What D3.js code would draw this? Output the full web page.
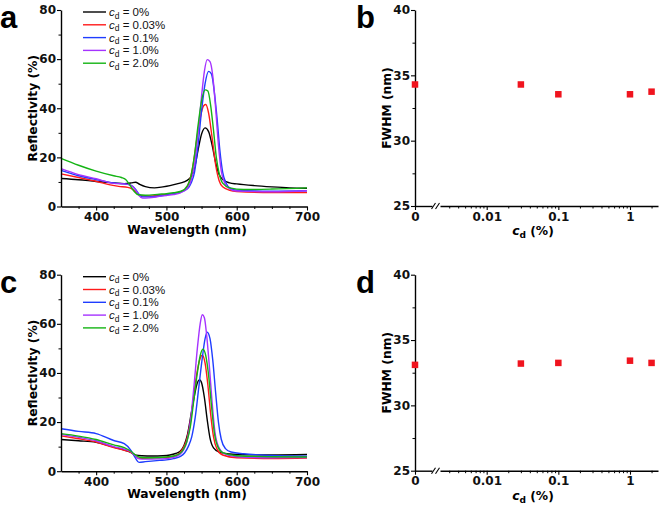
<!DOCTYPE html>
<html><head><meta charset="utf-8">
<script src="https://cdn.jsdelivr.net/npm/d3@7"></script>
<style>
html,body{margin:0;padding:0;background:#fff;}
svg{display:block;font-family:"Liberation Sans",Arial,sans-serif;}
</style></head>
<body>
<svg id="chart" width="661" height="506"></svg>
<script>
// ---------- DATA ----------
const seriesLabels = ["0%", "0.03%", "0.1%", "1.0%", "2.0%"];
const seriesColors = ["#000000", "#ff1a1a", "#1f3dff", "#a533ff", "#14b414"];

// Panel a spectra: [wavelength nm, reflectivity %]
const a_cd0 = [[350,11.4],[375,10.9],[400,10.2],[425,9.6],[440,9.3],[450,9.6],[456,9.9],[462,9.0],[470,8.1],[483,7.6],[495,8.0],[505,8.5],[515,9.2],[525,10.0],[532,11.2],[537,13],[541,17],[545,23],[550,29.5],[555,32],[560,30.5],[565,25],[570,18],[575,13],[580,11],[590,9.6],[600,9.2],[625,8.5],[650,8.0],[675,7.6],[700,7.4]];
const a_cd003 = [[350,13.3],[375,11.8],[400,10.3],[420,8.8],[432,8.2],[445,7.8],[452,7.0],[458,5.4],[464,4.4],[475,4.3],[490,4.6],[500,4.9],[510,5.3],[520,6.0],[528,7.5],[533,10.5],[538,17],[543,27],[548,36],[553,41],[556,41.5],[560,38],[565,28],[570,17],[575,10.5],[580,8],[590,6.6],[600,6.1],[650,5.7],[700,5.7]];
const a_cd01 = [[350,14.7],[375,12.5],[400,11.0],[425,9.6],[440,9.2],[450,8.6],[456,7.0],[461,5.0],[466,3.9],[475,3.9],[490,4.3],[500,4.7],[510,5.2],[520,5.9],[530,7.2],[535,9.5],[540,14],[545,25],[550,39],[555,50],[560,55],[564,54],[568,47],[572,36],[576,23],[580,14],[585,9.5],[590,7.6],[600,6.6],[650,6.2],[700,6.4]];
const a_cd1 = [[350,15.4],[375,13.0],[400,11.3],[425,9.4],[440,9.2],[450,8.5],[456,6.8],[461,4.5],[466,3.4],[475,3.5],[490,4.1],[500,4.5],[510,4.9],[520,5.6],[530,7.5],[535,10.5],[540,17],[545,30],[550,45],[554,55],[558,59.8],[562,59],[566,53],[570,40],[574,25],[578,14.5],[583,9.5],[590,7.2],[600,6.3],[650,6.0],[700,6.4]];
const a_cd2 = [[350,19.6],[375,16.8],[400,14.4],[425,12.5],[436,11.8],[442,11.0],[448,8.7],[454,6.2],[460,4.8],[470,4.6],[490,5.0],[500,5.2],[510,5.6],[521,6.2],[530,8.5],[535,12.5],[540,21],[545,33],[550,43],[555,47.5],[559,47],[563,41],[567,31],[571,20],[575,13.5],[580,9.5],[590,7.6],[610,6.9],[650,7.1],[700,7.6]];

// Panel c spectra
const c_cd0 = [[350,12.9],[375,12.4],[400,11.8],[425,9.8],[440,8.6],[450,7.6],[457,6.5],[465,6.3],[480,6.2],[495,6.3],[505,6.6],[513,7.2],[520,8.2],[525,10.5],[530,15],[535,23],[540,31],[544,36],[547,37.3],[550,36],[554,30],[558,21],[562,13.5],[567,9.5],[575,7.8],[590,7.0],[610,6.7],[650,6.6],[700,6.8]];
const c_cd003 = [[350,14.4],[375,13.2],[400,11.9],[425,9.6],[440,8.5],[450,7.6],[456,6.2],[460,5.3],[470,5.3],[490,5.5],[500,5.6],[510,6.1],[518,7.2],[524,9.5],[529,13],[534,20],[539,31],[544,41],[548,46],[551,47.2],[555,44],[559,35],[563,23],[567,14],[572,9],[580,6.6],[600,5.5],[650,5.2],[700,5.4]];
const c_cd01 = [[350,17.3],[375,16.2],[400,15.3],[425,12.5],[440,11.2],[450,8.3],[456,5.3],[461,3.6],[470,3.9],[490,4.4],[500,4.6],[510,5.1],[520,6.0],[526,7.5],[531,10],[536,14],[541,22],[546,34],[551,46],[555,54],[558,56.6],[562,54],[566,45],[570,32],[574,20],[578,13],[584,9.2],[592,7.8],[610,7.1],[650,6.4],[700,6.1]];
const c_cd1 = [[350,15.0],[375,13.8],[400,12.4],[425,10.0],[440,9.0],[450,7.8],[456,6.2],[461,5.0],[470,4.9],[490,5.0],[500,5.1],[510,5.6],[518,6.6],[524,8.5],[529,12],[534,20],[539,34],[544,50],[548,60],[551,63.7],[554,62.5],[557,56],[561,43],[565,28],[569,16],[574,10],[582,7.2],[600,5.9],[650,5.5],[700,5.6]];
const c_cd2 = [[350,15.3],[375,14.3],[400,12.9],[425,10.7],[440,9.6],[450,8.0],[456,6.6],[462,5.7],[470,5.5],[490,5.6],[500,5.8],[510,6.2],[518,7.0],[524,8.8],[529,12],[534,18],[539,29],[544,40],[548,47],[552,49.7],[556,47],[560,39],[564,27],[568,16],[573,10],[580,7.6],[600,6.3],[650,5.9],[700,5.8]];

// Panels b, d: FWHM vs c_d
const cdValues = [0, 0.03, 0.1, 1, 2];
const fwhmB = [34.3, 34.3, 33.55, 33.55, 33.75];
const fwhmD = [33.1, 33.2, 33.25, 33.42, 33.25];

// Ticks
const wlMajorTicks = [400, 500, 600, 700];
const wlMinorTicks = [375, 425, 450, 475, 525, 550, 575, 625, 650, 675];
const reflMajorTicks = [0, 20, 40, 60, 80];
const reflMinorTicks = [10, 30, 50, 70];
const fwhmMajorTicks = [25, 30, 35, 40];
const fwhmMinorTicks = [27.5, 32.5, 37.5];
const cdMajorTicks = [0.01, 0.1, 1];
const cdMajorLabels = ["0.01", "0.1", "1"];
const cdMinorTicks = [0.003,0.004,0.005,0.006,0.007,0.008,0.009,0.02,0.03,0.04,0.05,0.06,0.07,0.08,0.09,0.2,0.3,0.4,0.5,0.6,0.7,0.8,0.9,2];

// ---------- DRAW ----------
const svg = d3.select("#chart");
const FONT = "'Liberation Sans', Arial, sans-serif";
const BFONT = "'DejaVu Sans', 'Liberation Sans', sans-serif";

function styleAxis(g) {
  g.select(".domain").attr("stroke", "#000").attr("stroke-width", 1.4);
  g.selectAll(".tick line").attr("stroke", "#000").attr("stroke-width", 1.1);
  g.selectAll(".tick text").attr("font-family", BFONT).attr("font-weight", "bold").attr("font-size", 12).attr("fill", "#111");
}

function spectraPanel(ox, oy, letter, data) {
  const W = 246, H = 196.5;
  const g = svg.append("g").attr("transform", `translate(${ox},${oy})`);
  const x = d3.scaleLinear().domain([350, 700]).range([0, W]);
  const y = d3.scaleLinear().domain([0, 80]).range([H, 0]);

  // minor ticks
  g.append("g").attr("transform", `translate(0,${H})`)
    .call(d3.axisBottom(x).tickValues(wlMinorTicks).tickSize(2.5).tickFormat(""))
    .call(a => { a.select(".domain").remove(); a.selectAll("line").attr("stroke", "#000").attr("stroke-width", 1); });
  g.append("g")
    .call(d3.axisLeft(y).tickValues(reflMinorTicks).tickSize(2.5).tickFormat(""))
    .call(a => { a.select(".domain").remove(); a.selectAll("line").attr("stroke", "#000").attr("stroke-width", 1); });

  // curves
  const line = d3.line().x(d => x(d[0])).y(d => y(d[1])).curve(d3.curveMonotoneX);
  data.forEach((s, i) => {
    g.append("path").datum(s).attr("fill", "none").attr("stroke", seriesColors[i])
      .attr("stroke-width", 1.4).attr("stroke-linejoin", "round").attr("d", line);
  });

  // axes
  g.append("g").attr("transform", `translate(0,${H})`)
    .call(d3.axisBottom(x).tickValues(wlMajorTicks).tickSize(4).tickSizeOuter(0).tickPadding(2))
    .call(styleAxis);
  g.append("g")
    .call(d3.axisLeft(y).tickValues(reflMajorTicks).tickSize(4).tickSizeOuter(0).tickPadding(1))
    .call(styleAxis);

  // axis titles
  g.append("text").attr("x", W / 2 + 3).attr("y", H + 27).attr("text-anchor", "middle")
    .attr("font-family", BFONT).attr("font-weight", "bold").attr("font-size", 12.3).text("Wavelength (nm)");
  g.append("text").attr("transform", `translate(-24,${H / 2}) rotate(-90)`).attr("text-anchor", "middle")
    .attr("font-family", BFONT).attr("font-weight", "bold").attr("font-size", 12.3).text("Reflectivity (%)");

  // panel letter
  svg.append("text").attr("x", ox - 61).attr("y", oy + 18).attr("font-family", FONT)
    .attr("font-weight", "bold").attr("font-size", 31).text(letter);

  // legend
  const lg = g.append("g").attr("transform", `translate(22,2)`);
  seriesLabels.forEach((lab, i) => {
    const row = lg.append("g").attr("transform", `translate(0,${i * 12.8})`);
    row.append("line").attr("x1", 0).attr("x2", 23).attr("y1", 0).attr("y2", 0)
      .attr("stroke", seriesColors[i]).attr("stroke-width", 1.4);
    const t = row.append("text").attr("x", 26).attr("y", 4).attr("font-family", FONT).attr("font-size", 11.5).attr("fill", "#111");
    t.append("tspan").attr("font-style", "italic").text("c");
    t.append("tspan").attr("font-size", 8.5).attr("dy", 2.5).text("d");
    t.append("tspan").attr("dy", -2.5).text(" = " + lab);
  });
}

function fwhmPanel(ox, oy, letter, vals) {
  const W = 243, H = 196;
  const g = svg.append("g").attr("transform", `translate(${ox},${oy})`);
  const y = d3.scaleLinear().domain([25, 40]).range([H, 0]);
  const xZero = d3.scaleLinear().domain([0, 1]).range([0, 17]);
  const xLog = d3.scaleLog().domain([0.00223, 2.46]).range([25, W]);
  const xp = v => v === 0 ? xZero(0) : xLog(v);

  // minor ticks
  g.append("g").attr("transform", `translate(0,${H})`)
    .call(d3.axisBottom(xLog).tickValues(cdMinorTicks).tickSize(2.5).tickFormat(""))
    .call(a => { a.select(".domain").remove(); a.selectAll("line").attr("stroke", "#000").attr("stroke-width", 1); });
  g.append("g")
    .call(d3.axisLeft(y).tickValues(fwhmMinorTicks).tickSize(2.5).tickFormat(""))
    .call(a => { a.select(".domain").remove(); a.selectAll("line").attr("stroke", "#000").attr("stroke-width", 1); });

  // x axis: zero segment
  g.append("g").attr("transform", `translate(0,${H})`)
    .call(d3.axisBottom(xZero).tickValues([0]).tickSize(4).tickSizeOuter(0).tickPadding(2).tickFormat(d3.format("d")))
    .call(styleAxis);
  // log segment
  g.append("g").attr("transform", `translate(0,${H})`)
    .call(d3.axisBottom(xLog).tickValues(cdMajorTicks).tickSize(4).tickSizeOuter(0).tickPadding(2)
      .tickFormat((d, i) => cdMajorLabels[i]))
    .call(styleAxis);
  // break marks
  [18.5, 22.5].forEach(bx => {
    g.append("line").attr("x1", bx - 2).attr("x2", bx + 2).attr("y1", H + 3).attr("y2", H - 3)
      .attr("stroke", "#000").attr("stroke-width", 1.1);
  });

  // y axis
  g.append("g")
    .call(d3.axisLeft(y).tickValues(fwhmMajorTicks).tickSize(4).tickSizeOuter(0).tickPadding(1))
    .call(styleAxis);

  // points
  const s = 6.5;
  g.selectAll("rect.pt").data(cdValues).enter().append("rect").attr("class", "pt")
    .attr("x", d => xp(d) - s / 2).attr("y", (d, i) => y(vals[i]) - s / 2)
    .attr("width", s).attr("height", s).attr("fill", "#f0141e");

  // titles
  const t = g.append("text").attr("x", 118).attr("y", H + 29).attr("text-anchor", "middle")
    .attr("font-family", BFONT).attr("font-weight", "bold").attr("font-size", 12.3);
  t.append("tspan").attr("font-style", "italic").text("c");
  t.append("tspan").attr("font-size", 9).attr("dy", 3).text("d");
  t.append("tspan").attr("dy", -3).text(" (%)");
  g.append("text").attr("transform", `translate(-24,${H / 2}) rotate(-90)`).attr("text-anchor", "middle")
    .attr("font-family", BFONT).attr("font-weight", "bold").attr("font-size", 12.3).text("FWHM (nm)");

  svg.append("text").attr("x", ox - 59).attr("y", oy + 18).attr("font-family", FONT)
    .attr("font-weight", "bold").attr("font-size", 31).text(letter);
}

spectraPanel(61, 10, "a", [a_cd0, a_cd003, a_cd01, a_cd1, a_cd2]);
fwhmPanel(415, 10, "b", fwhmB);
spectraPanel(61, 274.7, "c", [c_cd0, c_cd003, c_cd01, c_cd1, c_cd2]);
fwhmPanel(415, 274.7, "d", fwhmD);
</script>
</body></html>
